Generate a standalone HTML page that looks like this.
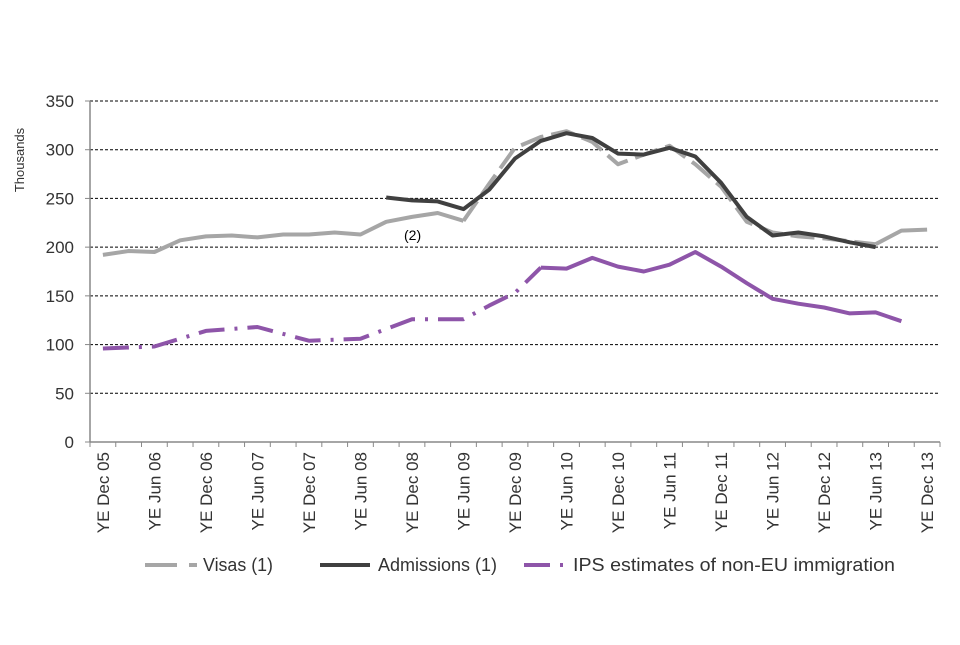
<!DOCTYPE html>
<html><head><meta charset="utf-8"><style>
body{margin:0;background:#fff;font-family:"Liberation Sans",Arial,sans-serif}
</style></head><body>
<svg id="chart" width="960" height="640" xmlns="http://www.w3.org/2000/svg" font-family="Liberation Sans, Arial, sans-serif"></svg>
<script>
const categories=["Dec 05","Mar 06","Jun 06","Sep 06","Dec 06","Mar 07","Jun 07","Sep 07","Dec 07","Mar 08","Jun 08","Sep 08","Dec 08","Mar 09","Jun 09","Sep 09","Dec 09","Mar 10","Jun 10","Sep 10","Dec 10","Mar 11","Jun 11","Sep 11","Dec 11","Mar 12","Jun 12","Sep 12","Dec 12","Mar 13","Jun 13","Sep 13","Dec 13"];
const visas=[192,196,195,207,211,212,210,213,213,215,213,226,231,235,227,265,302,313,319,308,285,295,304,285,262,226,215,211,209,206,203,217,218];
const admissions=[null,null,null,null,null,null,null,null,null,null,null,251,248,247,239,259,291,309,317,312,296,295,302,293,266,231,212,215,211,205,200,null,null];
const ips=[96,97,98,106,114,116,118,111,104,105,106,116,126,126,126,140,153,179,178,189,180,175,182,195,180,163,147,142,138,132,133,124,null];
const yTicks=[0,50,100,150,200,250,300,350];
const svg=document.getElementById('chart');
const NS='http://www.w3.org/2000/svg';
const L=90,R=940,T=101,B=442;
const step=(R-L)/categories.length;
function x(i){return L+step*(i+0.5);}
function y(v){return B-(v/350)*(B-T);}
function el(tag,attrs,parent){const e=document.createElementNS(NS,tag);for(const k in attrs)e.setAttribute(k,attrs[k]);(parent||svg).appendChild(e);return e;}
yTicks.forEach(t=>{
  if(t>0){const g=el('line',{x1:L,x2:R,y1:y(t),y2:y(t),stroke:'#000','stroke-width':1,'stroke-dasharray':'3,2'});
  
  }
  const tk=el('line',{x1:L-5,x2:L,y1:y(t),y2:y(t),stroke:'#888'});
  
  
  const tx=el('text',{x:74,y:y(t)+6,'text-anchor':'end','font-size':17,fill:'#333'});tx.textContent=t;
  
  
});
const ax=el('line',{x1:L,x2:L,y1:T,y2:B,stroke:'#888','stroke-width':1.5});


const bx=el('line',{x1:L,x2:R,y1:B,y2:B,stroke:'#888','stroke-width':1.5});


for(let i=0;i<=categories.length;i++){const tk=el('line',{x1:L+step*i,x2:L+step*i,y1:B,y2:B+5,stroke:'#888'});

}
categories.forEach((c,i)=>{if(i%2)return;
  const t=el('text',{transform:`translate(${x(i)+6},452) rotate(-90)`,'text-anchor':'end','font-size':17,fill:'#333'});t.textContent='YE '+c;
  
  });
const yt=el('text',{transform:'translate(24,160) rotate(-90)','text-anchor':'middle','font-size':13,fill:'#333'});yt.textContent='Thousands';


function seg(arr,a,b,stroke,w,dash,name){
  let pts=[];for(let i=a;i<=b;i++){if(arr[i]!=null)pts.push(x(i).toFixed(1)+','+y(arr[i]).toFixed(1));}
  const p=el('polyline',{points:pts.join(' '),fill:'none',stroke:stroke,'stroke-width':w,'stroke-linejoin':'round','stroke-dasharray':dash||'none'});
  
  
}
seg(visas,0,14,'#a6a6a6',4,null,'visas-line');
seg(visas,14,30,'#a6a6a6',4,'24,8','visas-line-dashed');
seg(visas,30,32,'#a6a6a6',4,null,'visas-line-end');
seg(ips,0,17,'#8e55a9',4,'26,10,3,10','ips-line-dashdot');
seg(ips,17,31,'#8e55a9',4,null,'ips-line');
seg(admissions,11,30,'#404040',4,null,'admissions-line');
const n=el('text',{x:404,y:240,'font-size':14,fill:'#000'});n.textContent='(2)';


function leg(x1,x2,stroke,dash,label,tx,len,name){
  const g=el('g',{});
  
  
  el('line',{x1:x1,x2:x2,y1:565,y2:565,stroke:stroke,'stroke-width':4,'stroke-dasharray':dash||'none'},g);
  const t=el('text',{x:tx,y:571,'font-size':18,fill:'#333',textLength:len,lengthAdjust:'spacingAndGlyphs'},g);t.textContent=label;
}
leg(145,197,'#a6a6a6','32,12','Visas (1)',203,70,'legend-visas');
leg(320,370,'#404040',null,'Admissions (1)',378,119,'legend-admissions');
leg(524,566,'#8e55a9','26,10,3,10','IPS estimates of non-EU immigration',573,322,'legend-ips');
</script>
</body></html>
